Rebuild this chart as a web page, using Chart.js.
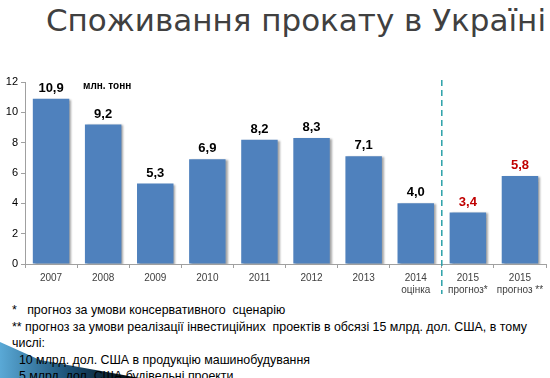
<!DOCTYPE html>
<html>
<head>
<meta charset="utf-8">
<script src="https://cdn.jsdelivr.net/npm/chart.js@4"></script>
<style>
  body { margin: 0; width: 550px; height: 378px; background: #fff; overflow: hidden; position: relative; font-family: "Liberation Sans", Arial, sans-serif; }
  #title { position: absolute; left: 0; top: 0; width: 546px; text-align: right; font-family: "DejaVu Sans", Verdana, sans-serif; font-size: 31px; color: #404040; line-height: 40px; }
  #box { position: absolute; left: 0; top: 72px; width: 550px; height: 230px; }
  #notes { position: absolute; left: 12px; top: 302px; font-size: 12.4px; color: #000; line-height: 16.5px; }
  #notes div { white-space: pre; }
  #deco { position: absolute; left: 0; top: 330px; }
</style>
</head>
<body>
<div id="title">Споживання прокату в Україні</div>
<div id="box"><canvas id="c"></canvas></div>
<svg id="deco" width="160" height="48">
  <defs>
    <linearGradient id="g" x1="0" y1="0" x2="1" y2="0">
      <stop offset="0" stop-color="#5aa9d6"/>
      <stop offset="0.5" stop-color="#1b4f74"/>
      <stop offset="1" stop-color="#000"/>
    </linearGradient>
  </defs>
  <polygon points="0,12 40,30 140,48 0,48" fill="url(#g)"/>
</svg>
<div id="notes">
  <div>*   прогноз за умови консервативного  сценарію</div>
  <div>** прогноз за умови реалізації інвестиційних  проектів в обсязі 15 млрд. дол. США, в тому</div>
  <div>числі:</div>
  <div>  10 млрд. дол. США в продукцію машинобудування</div>
  <div>  5 млрд. дол. США будівельні проекти</div>
</div>
<script>
const years = ["2007", "2008", "2009", "2010", "2011", "2012", "2013", "2014", "2015", "2015"];
const subLabels = ["", "", "", "", "", "", "", "оцінка", "прогноз*", "прогноз **"];
const values = [10.9, 9.2, 5.3, 6.9, 8.2, 8.3, 7.1, 4.0, 3.4, 5.8];
const labelColors = ["#000", "#000", "#000", "#000", "#000", "#000", "#000", "#000", "#c00000", "#c00000"];
const yTicks = [0, 2, 4, 6, 8, 10, 12];

const shadow = {
  id: "shadow",
  beforeDatasetsDraw(chart) {
    const ctx = chart.ctx;
    ctx.save();
    ctx.shadowColor = "rgba(0,0,0,0.35)";
    ctx.shadowOffsetX = 2;
    ctx.shadowOffsetY = 1;
    ctx.shadowBlur = 2;
  },
  afterDatasetsDraw(chart) {
    chart.ctx.restore();
  }
};

const valueLabels = {
  id: "valueLabels",
  afterDraw(chart) {
    const ctx = chart.ctx;
    const meta = chart.getDatasetMeta(0);
    ctx.save();
    ctx.font = "bold 13px 'Liberation Sans', Arial, sans-serif";
    ctx.textAlign = "center";
    ctx.textBaseline = "bottom";
    meta.data.forEach((bar, i) => {
      ctx.fillStyle = labelColors[i];
      ctx.fillText(values[i].toFixed(1).replace(".", ","), bar.x, bar.y - 4);
    });
    ctx.font = "bold 10px 'Liberation Sans', Arial, sans-serif";
    ctx.fillStyle = "#000";
    ctx.textAlign = "left";
    ctx.textBaseline = "middle";
    ctx.fillText("млн. тонн", 83, chart.scales.y.getPixelForValue(11.7));
    // dashed separator between actual and forecast
    const x = (meta.data[7].x + meta.data[8].x) / 2;
    ctx.strokeStyle = "#2aa0a8";
    ctx.lineWidth = 1.5;
    ctx.setLineDash([6, 4]);
    ctx.beginPath();
    ctx.moveTo(x, chart.chartArea.top - 2);
    ctx.lineTo(x, chart.chartArea.bottom + 30);
    ctx.stroke();
    ctx.restore();
  }
};

new Chart(document.getElementById("c"), {
  type: "bar",
  data: {
    labels: years.map((y, i) => subLabels[i] ? [y, subLabels[i]] : y),
    datasets: [{
      data: values,
      backgroundColor: "#4f81bd",
      barPercentage: 0.7,
      categoryPercentage: 1
    }]
  },
  options: {
    responsive: true,
    maintainAspectRatio: false,
    animation: false,
    layout: { padding: { top: 10, right: 4, left: 0, bottom: 0 } },
    plugins: { legend: { display: false }, tooltip: { enabled: false } },
    scales: {
      x: {
        offset: true,
        grid: { display: true, drawOnChartArea: false, offset: true, tickLength: 4, color: "#a0a0a0" },
        border: { color: "#a0a0a0" },
        ticks: { color: "#404040", font: { size: 10, family: "'Liberation Sans', Arial, sans-serif" }, maxRotation: 0, padding: 4 },
        afterFit(scale) { scale.height = 38; }
      },
      y: {
        min: 0,
        max: 12,
        afterBuildTicks(scale) { scale.ticks = yTicks.map(v => ({ value: v })); },
        grid: { display: true, drawOnChartArea: false, tickLength: 4, color: "#a0a0a0" },
        border: { color: "#a0a0a0" },
        ticks: { color: "#000", font: { size: 11, family: "'Liberation Sans', Arial, sans-serif" }, padding: 3 },
        afterFit(scale) { scale.width = 25; }
      }
    }
  },
  plugins: [shadow, valueLabels]
});
</script>
</body>
</html>
